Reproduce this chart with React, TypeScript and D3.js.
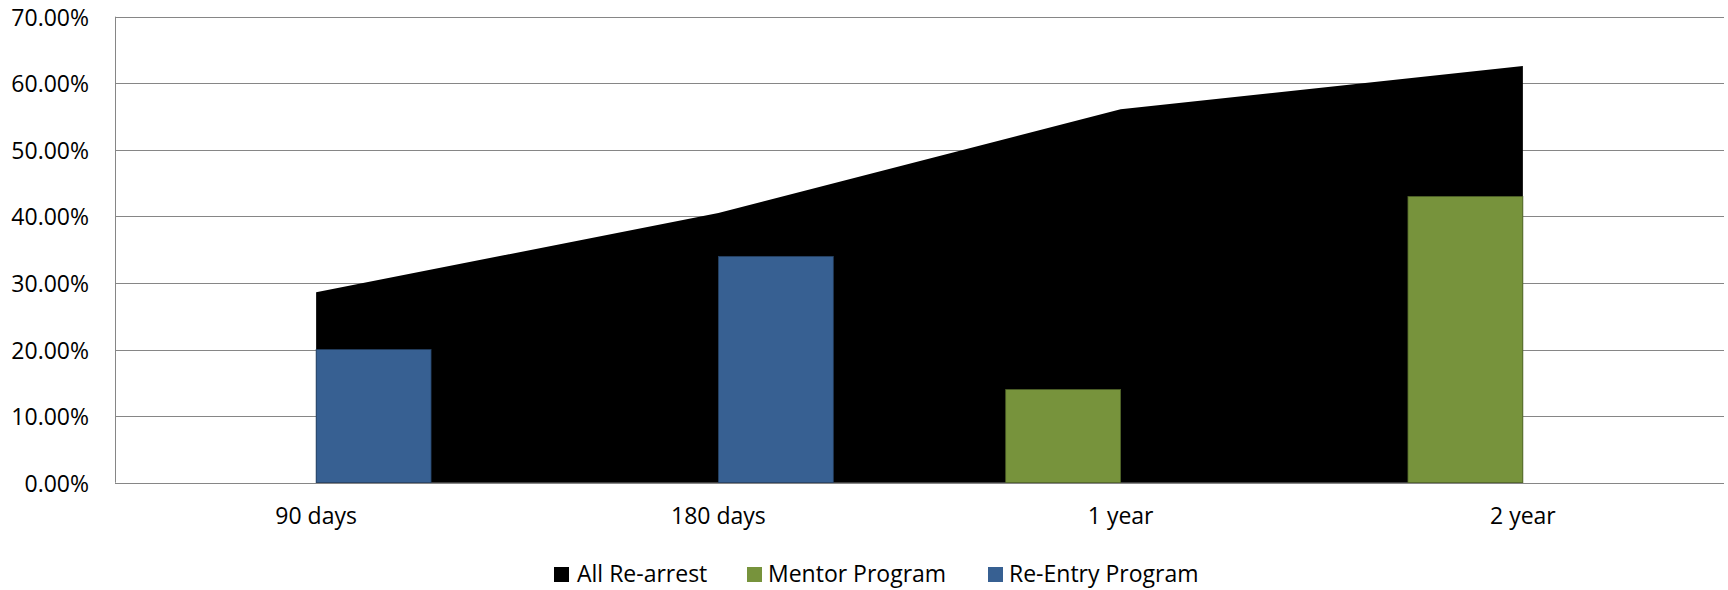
import React from "react";
import * as d3 from "d3";

const categories = ["90 days", "180 days", "1 year", "2 year"];
const allRearrest = [28.6, 40.5, 56.1, 62.6];
const mentorProgram: (number | null)[] = [null, null, 14, 43];
const reEntryProgram: (number | null)[] = [20, 34, null, null];
const yTicks = [0, 10, 20, 30, 40, 50, 60, 70];
const barSeries = ["Mentor Program", "Re-Entry Program"];

const W = 1728;
const H = 590;
const M = { left: 115, right: 1724, top: 16.7, bottom: 482.7 };
const FONT = "'Open Sans', 'Liberation Sans', sans-serif";
const BLUE = "#376092";
const GREEN = "#77933C";
const GRID = "#868686";
const FS = 23;

export default function App() {
  const x = d3.scaleBand<string>().domain(categories).range([M.left, M.right]).padding(0);
  const y = d3.scaleLinear().domain([0, 70]).range([M.bottom, M.top]);
  const bw = x.bandwidth();
  const barW = bw / 3.5;
  const cx = (c: string) => (x(c) as number) + bw / 2;

  const area = d3
    .area<number>()
    .x((_, i) => cx(categories[i]))
    .y0(y(0))
    .y1((d) => y(d));

  const seriesVals: Record<string, (number | null)[]> = {
    "Mentor Program": mentorProgram,
    "Re-Entry Program": reEntryProgram,
  };
  const seriesColor: Record<string, string> = {
    "Mentor Program": GREEN,
    "Re-Entry Program": BLUE,
  };
  const seriesStroke: Record<string, string> = {
    "Mentor Program": "#4f6228",
    "Re-Entry Program": "#254061",
  };

  const legend = [
    { label: "All Re-arrest", color: "#000000", sx: 554, tx: 577 },
    { label: "Mentor Program", color: GREEN, sx: 747, tx: 768 },
    { label: "Re-Entry Program", color: BLUE, sx: 988, tx: 1009 },
  ];

  return (
    <svg
      width={W}
      height={H}
      style={{ position: "absolute", left: 0, top: 0, display: "block", background: "#fff" }}
      fontFamily={FONT}
    >
      {yTicks.map((t) => (
        <line
          key={t}
          x1={M.left}
          x2={M.right}
          y1={Math.round(y(t)) + 0.5}
          y2={Math.round(y(t)) + 0.5}
          stroke={GRID}
          strokeWidth={1}
        />
      ))}
      <path d={area(allRearrest) || ""} fill="#000" />
      {barSeries.map((s, si) =>
        seriesVals[s].map((v, i) => {
          if (v == null) return null;
          const c = cx(categories[i]);
          const x0 = c - barW + si * barW;
          return (
            <rect
              key={s + i}
              x={x0}
              y={y(v)}
              width={barW}
              height={y(0) - y(v)}
              fill={seriesColor[s]}
              stroke={seriesStroke[s]}
              strokeWidth={0.75}
            />
          );
        })
      )}
      <line x1={M.left + 0.5} x2={M.left + 0.5} y1={M.top} y2={M.bottom} stroke={GRID} strokeWidth={1} />
      <line x1={M.left} x2={M.right} y1={Math.round(y(0)) + 0.5} y2={Math.round(y(0)) + 0.5} stroke={GRID} strokeWidth={1} />
      {yTicks.map((t) => (
        <text
          key={t}
          x={89}
          y={y(t)}
          textAnchor="end"
          dominantBaseline="central"
          fontSize={FS}
          fill="#000"
        >
          {t.toFixed(2) + "%"}
        </text>
      ))}
      {categories.map((c) => (
        <text key={c} x={cx(c)} y={524} textAnchor="middle" fontSize={FS} fill="#000">
          {c}
        </text>
      ))}
      {legend.map((l) => (
        <g key={l.label}>
          <rect x={l.sx} y={567} width={15} height={15} fill={l.color} />
          <text x={l.tx} y={582} fontSize={FS} fill="#000">
            {l.label}
          </text>
        </g>
      ))}
    </svg>
  );
}
